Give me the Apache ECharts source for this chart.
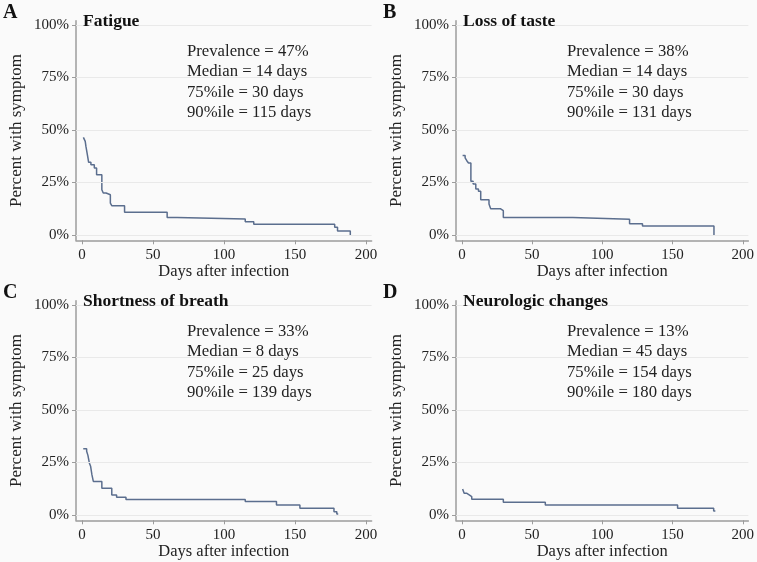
<!DOCTYPE html>
<html>
<head>
<meta charset="utf-8">
<script src="https://cdn.jsdelivr.net/npm/echarts@6/dist/echarts.min.js"></script>
<style>
  html, body { margin: 0; padding: 0; background: #fafafa; }
  #chart { width: 757px; height: 562px; }
</style>
</head>
<body>
<div id="chart"></div>
<script>
// tick labels
var xTicks = [0, 50, 100, 150, 200]
var yTicks = [0, 25, 50, 75, 100]

// panel headings
var panelLetters = ['A', 'B', 'C', 'D']
var panelTitles = ['Fatigue', 'Loss of taste', 'Shortness of breath', 'Neurologic changes']
var panelStats = [
  ['Prevalence = 47%', 'Median = 14 days', '75%ile = 30 days', '90%ile = 115 days'],
  ['Prevalence = 38%', 'Median = 14 days', '75%ile = 30 days', '90%ile = 131 days'],
  ['Prevalence = 33%', 'Median = 8 days', '75%ile = 25 days', '90%ile = 139 days'],
  ['Prevalence = 13%', 'Median = 45 days', '75%ile = 154 days', '90%ile = 180 days']
]

// step curves: day the level starts, percent with symptom from that day on
var fatigueDays = [1, 2.3, 2.8, 4, 4.7, 6.3, 8.7, 10.3, 14, 15, 17, 20, 21, 30, 60, 67, 115, 121, 178, 180, 189]
var fatiguePct = [46.5, 44.6, 42.2, 37.5, 34.6, 33.5, 31.9, 28.7, 21.6, 20, 19.2, 15.2, 14, 10.8, 8.4, 7.6, 6.3, 5.1, 3.7, 1.9, 0]

var tasteDays = [0.5, 2.3, 3.5, 4.7, 6.4, 8, 9.9, 11.8, 13.4, 19.3, 20.5, 27.6, 29.5, 79, 119.4, 128.6, 179.5]
var tastePct = [37.9, 36.7, 35.4, 34.3, 25.6, 24.3, 21.9, 20.8, 16.8, 14.8, 12.5, 11.6, 8.4, 7.5, 5.4, 4.3, 0]

var breathDays = [0.9, 3.3, 4.2, 5.2, 6.1, 7, 8, 14, 21, 24.4, 31, 115, 137, 153.5, 177.5, 179.5, 180.5]
var breathPct = [31.6, 30.4, 28.4, 24.8, 23.2, 19.2, 16, 12.8, 9.6, 8.5, 7.4, 6.4, 4.8, 3.2, 1.6, 0.5, 0.5]

var neuroDays = [0.5, 1.6, 3.3, 5.2, 7, 29.5, 59.4, 153.6, 179.3, 180.5]
var neuroPct = [12.4, 10.4, 9.6, 8.8, 7.5, 6.1, 4.8, 3.2, 1.9, 1.9]

var curves = [
  [fatigueDays, fatiguePct],
  [tasteDays, tastePct],
  [breathDays, breathPct],
  [neuroDays, neuroPct]
]

var serif = '"Liberation Serif", "DejaVu Serif", serif'
var axisGray = '#9c9c9c'
var lineBlue = '#5b6e8e'

// panel origins (top-left offsets)
var offsets = [[0, 0], [380, 0], [0, 280], [380, 280]]

var grids = [], xAxes = [], yAxes = [], series = [], titles = []

offsets.forEach(function (o, i) {
  grids.push({ left: 76 + o[0], top: 20.8 + o[1], width: 295.6, height: 219.5 })
  xAxes.push({
    type: 'value',
    gridIndex: i,
    min: -4.2,
    max: 204,
    name: 'Days after infection',
    nameLocation: 'middle',
    nameGap: 23,
    nameTextStyle: { fontFamily: serif, fontSize: 16.5, color: '#222', verticalAlign: 'top' },
    axisLine: { show: true, onZero: false, lineStyle: { color: axisGray, width: 1.5 } },
    axisTick: { show: true, length: 4, customValues: xTicks, lineStyle: { color: axisGray } },
    axisLabel: { customValues: xTicks, margin: 7, fontFamily: serif, fontSize: 15, color: '#222' },
    splitLine: { show: false }
  })
  yAxes.push({
    type: 'value',
    gridIndex: i,
    min: -2.5,
    max: 102,
    name: 'Percent with symptom',
    nameLocation: 'middle',
    nameGap: 51,
    nameTextStyle: { fontFamily: serif, fontSize: 17, color: '#222' },
    axisLine: { show: true, onZero: false, lineStyle: { color: axisGray, width: 1.5 } },
    axisTick: { show: true, length: 4, customValues: yTicks, lineStyle: { color: axisGray } },
    axisLabel: {
      customValues: yTicks,
      margin: 7,
      fontFamily: serif,
      fontSize: 15,
      color: '#222',
      formatter: function (v) { return v + '%' }
    },
    splitLine: { show: false }
  })
  var pts = curves[i][0].map(function (d, k) { return [d, curves[i][1][k]] })
  series.push({
    type: 'line',
    xAxisIndex: i,
    yAxisIndex: i,
    step: 'end',
    showSymbol: false,
    data: pts,
    lineStyle: { color: lineBlue, width: 1.5 },
    markLine: {
      silent: true,
      symbol: 'none',
      label: { show: false },
      lineStyle: { color: '#e9e9e9', width: 1, type: 'solid' },
      data: yTicks.map(function (t) { return { yAxis: t } })
    }
  })
  titles.push({
    text: panelLetters[i],
    left: 3 + o[0],
    top: 3 + o[1],
    padding: 0,
    textStyle: { fontFamily: serif, fontSize: 20, fontWeight: 'bold', color: '#111' }
  })
  titles.push({
    text: panelTitles[i],
    left: 83 + o[0],
    top: 12 + o[1],
    padding: 0,
    textStyle: { fontFamily: serif, fontSize: 17.5, fontWeight: 'bold', color: '#111' }
  })
  titles.push({
    text: panelStats[i].join('\n'),
    left: 187 + o[0],
    top: 41.5 + o[1],
    padding: 0,
    textStyle: { fontFamily: serif, fontSize: 16.7, fontWeight: 'normal', color: '#222', lineHeight: 20.3 }
  })
})

var chart = echarts.init(document.getElementById('chart'))
chart.setOption({
  backgroundColor: '#fafafa',
  animation: false,
  title: titles,
  grid: grids,
  xAxis: xAxes,
  yAxis: yAxes,
  series: series
})
</script>
</body>
</html>
